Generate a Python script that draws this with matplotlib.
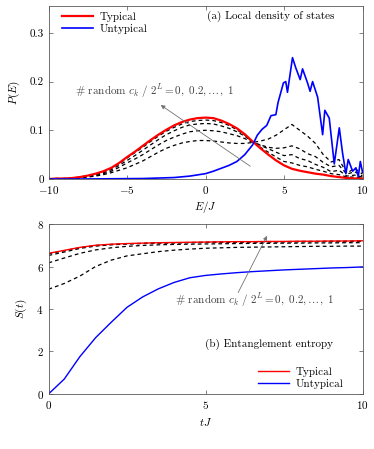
import matplotlib
matplotlib.use('Agg')
import matplotlib.pyplot as plt
import numpy

plt.rcParams['font.family'] = 'cmr10'
plt.rcParams['mathtext.fontset'] = 'cm'
plt.rcParams['axes.formatter.use_mathtext'] = True
plt.rcParams['font.size'] = 8

# (a) local density of states
energy = [-10, -9.5, -9, -8.5, -8, -7.5, -7, -6.5, -6, -5.5, -5, -4.5, -4, -3.5, -3,
          -2.5, -2, -1.5, -1, -0.5, 0, 0.5, 1, 1.5, 2, 2.5, 3, 3.5, 4, 4.5, 5,
          5.5, 6, 6.5, 7, 7.5, 8, 8.5, 9, 9.5, 10]
ldos_typical = [0.000, 0.001, 0.001, 0.002, 0.004, 0.007, 0.011, 0.016, 0.023, 0.033,
                0.045, 0.056, 0.068, 0.080, 0.091, 0.101, 0.110, 0.117, 0.122, 0.125,
                0.126, 0.125, 0.120, 0.113, 0.104, 0.092, 0.077, 0.063, 0.050, 0.038,
                0.028, 0.021, 0.017, 0.014, 0.011, 0.009, 0.006, 0.004, 0.002, 0.001, 0.001]
ldos_mix = {
    0.8: [0.000, 0.001, 0.001, 0.002, 0.004, 0.007, 0.010, 0.015, 0.022, 0.031,
          0.043, 0.054, 0.065, 0.077, 0.088, 0.098, 0.106, 0.113, 0.118, 0.120,
          0.121, 0.120, 0.116, 0.110, 0.101, 0.090, 0.076, 0.065, 0.055, 0.045,
          0.036, 0.033, 0.028, 0.025, 0.020, 0.016, 0.011, 0.009, 0.004, 0.004, 0.002],
    0.6: [0.000, 0.001, 0.001, 0.002, 0.003, 0.006, 0.009, 0.013, 0.019, 0.028,
          0.038, 0.048, 0.059, 0.070, 0.081, 0.091, 0.099, 0.106, 0.111, 0.113,
          0.114, 0.113, 0.109, 0.104, 0.097, 0.088, 0.076, 0.069, 0.062, 0.055,
          0.048, 0.050, 0.042, 0.038, 0.030, 0.024, 0.015, 0.018, 0.006, 0.008, 0.004],
    0.4: [0.000, 0.000, 0.001, 0.001, 0.003, 0.005, 0.007, 0.011, 0.016, 0.024,
          0.033, 0.041, 0.050, 0.060, 0.070, 0.079, 0.086, 0.092, 0.097, 0.099,
          0.100, 0.099, 0.097, 0.093, 0.089, 0.083, 0.075, 0.070, 0.065, 0.063,
          0.064, 0.068, 0.062, 0.052, 0.046, 0.034, 0.025, 0.028, 0.010, 0.015, 0.006],
    0.2: [0.000, 0.000, 0.000, 0.001, 0.002, 0.004, 0.006, 0.009, 0.013, 0.018,
          0.023, 0.030, 0.037, 0.046, 0.055, 0.063, 0.069, 0.074, 0.077, 0.079,
          0.079, 0.078, 0.076, 0.074, 0.073, 0.073, 0.075, 0.078, 0.082, 0.090,
          0.101, 0.112, 0.100, 0.088, 0.073, 0.050, 0.035, 0.040, 0.012, 0.022, 0.010],
}
energy_untyp = [-10, -8, -6, -4, -3, -2, -1, 0, 0.5, 1, 1.5, 2, 2.5, 3, 3.3, 3.6,
                3.9, 4.17, 4.48, 4.62, 4.96, 5.11, 5.22, 5.54, 5.75, 6.03, 6.18, 6.5,
                6.66, 6.82, 7.14, 7.46, 7.6, 7.88, 8.2, 8.52, 8.73, 8.94, 9.09, 9.37,
                9.58, 9.73, 9.86, 10]
ldos_untyp = [0.000, 0.000, 0.0005, 0.001, 0.002, 0.003, 0.006, 0.011, 0.016, 0.022,
              0.028, 0.036, 0.050, 0.070, 0.090, 0.102, 0.110, 0.130, 0.132, 0.157,
              0.197, 0.200, 0.178, 0.249, 0.228, 0.204, 0.226, 0.197, 0.180, 0.200,
              0.168, 0.091, 0.141, 0.125, 0.031, 0.105, 0.053, 0.011, 0.040, 0.016,
              0.023, 0.005, 0.036, 0.014]

# (b) entanglement entropy
time = [0, 0.5, 1, 1.5, 2, 2.5, 3, 3.5, 4, 4.5, 5, 5.5, 6, 6.5, 7, 7.5, 8, 8.5, 9, 9.5, 10]
s_typical = [6.62, 6.76, 6.90, 7.00, 7.05, 7.08, 7.10, 7.12, 7.13, 7.14, 7.15,
             7.16, 7.17, 7.17, 7.18, 7.18, 7.19, 7.19, 7.20, 7.20, 7.21]
s_mix = {
    0.8: [6.60, 6.74, 6.89, 6.99, 7.04, 7.07, 7.09, 7.11, 7.12, 7.13, 7.14,
          7.15, 7.16, 7.16, 7.17, 7.17, 7.18, 7.18, 7.19, 7.19, 7.20],
    0.6: [6.52, 6.68, 6.85, 6.96, 7.02, 7.06, 7.08, 7.10, 7.11, 7.12, 7.13,
          7.14, 7.14, 7.15, 7.15, 7.16, 7.16, 7.17, 7.17, 7.17, 7.18],
    0.4: [6.17, 6.40, 6.62, 6.78, 6.88, 6.95, 6.99, 7.02, 7.04, 7.05, 7.06,
          7.07, 7.08, 7.09, 7.09, 7.10, 7.10, 7.11, 7.11, 7.12, 7.12],
    0.2: [4.93, 5.20, 5.55, 6.00, 6.30, 6.50, 6.60, 6.70, 6.77, 6.82, 6.86,
          6.88, 6.90, 6.91, 6.92, 6.93, 6.94, 6.95, 6.95, 6.96, 6.96],
}
s_untyp = [0.00, 0.70, 1.76, 2.65, 3.38, 4.08, 4.57, 4.95, 5.25, 5.47, 5.58,
           5.65, 5.71, 5.76, 5.80, 5.84, 5.87, 5.90, 5.93, 5.95, 5.98]

annot_text = r'# random $c_k\ /\ 2^L = 0,\ 0.2, \ldots,\ 1$'

fig = plt.figure(figsize=(3.74, 4.49), dpi=100)
ax1 = fig.add_axes([0.1297, 0.6013, 0.8396, 0.3853])
ax2 = fig.add_axes([0.1297, 0.1225, 0.8396, 0.3786])

for ax in (ax1, ax2):
    ax.tick_params(direction='in', top=True, right=True, length=3, width=0.5,
                   colors='0.3', labelcolor='black', labelsize=8)
    for sp in ax.spines.values():
        sp.set_linewidth(0.6)
        sp.set_color('0.35')

# --- top panel
for frac in [0.8, 0.6, 0.4, 0.2]:
    ax1.plot(energy, ldos_mix[frac], '--', color='k', lw=0.9, dashes=(3, 2.5))
ax1.plot(energy, ldos_typical, color='red', lw=1.6, label='Typical')
ax1.plot(energy_untyp, ldos_untyp, color='blue', lw=1.2, label='Untypical')
ax1.set_xlim(-10, 10)
ax1.set_ylim(0, 0.355)
ax1.set_xticks([-10, -5, 0, 5, 10])
ax1.set_yticks([0, 0.1, 0.2, 0.3])
ax1.set_yticklabels(['0', '0.1', '0.2', '0.3'])
ax1.set_xlabel(r'$E/J$', labelpad=2)
ax1.set_ylabel(r'$P(E)$', labelpad=5)
ax1.text(0.505, 0.94, '(a) Local density of states', transform=ax1.transAxes,
         va='center', ha='left')
ax1.text(-8.3, 0.181, annot_text, va='center', ha='left', color='0.25')
ax1.annotate('', xy=(-3.0, 0.155), xytext=(3.0, 0.023),
             arrowprops=dict(arrowstyle='-|>', color='0.45', lw=0.6,
                             mutation_scale=6))
ax1.legend(loc='upper left', bbox_to_anchor=(0.032, 0.985), frameon=False,
           handlelength=2.8, handletextpad=0.6, labelspacing=0.15,
           borderaxespad=0.2, borderpad=0.1)

# --- bottom panel
for frac in [0.8, 0.6, 0.4, 0.2]:
    ax2.plot(time, s_mix[frac], '--', color='k', lw=0.9, dashes=(3, 2.5))
ax2.plot(time, s_typical, color='red', lw=1.0, label='Typical')
ax2.plot(time, s_untyp, color='blue', lw=1.0, label='Untypical')
ax2.set_xlim(0, 10)
ax2.set_ylim(0, 8)
ax2.set_xticks([0, 5, 10])
ax2.set_yticks([0, 2, 4, 6, 8])
ax2.set_xlabel(r'$tJ$', labelpad=4)
ax2.set_ylabel(r'$S(t)$', labelpad=5)
ax2.text(4.98, 2.35, '(b) Entanglement entropy', va='center', ha='left')
ax2.text(4.03, 4.42, annot_text, va='center', ha='left', color='0.25')
ax2.annotate('', xy=(7.0, 7.56), xytext=(6.0, 4.66),
             arrowprops=dict(arrowstyle='-|>', color='0.45', lw=0.6,
                             mutation_scale=6))
ax2.legend(loc='lower right', bbox_to_anchor=(0.95, 0.01), frameon=False,
           handlelength=2.8, handletextpad=0.6, labelspacing=0.15,
           borderaxespad=0.2, borderpad=0.1)

plt.savefig('out.png', dpi=100)
